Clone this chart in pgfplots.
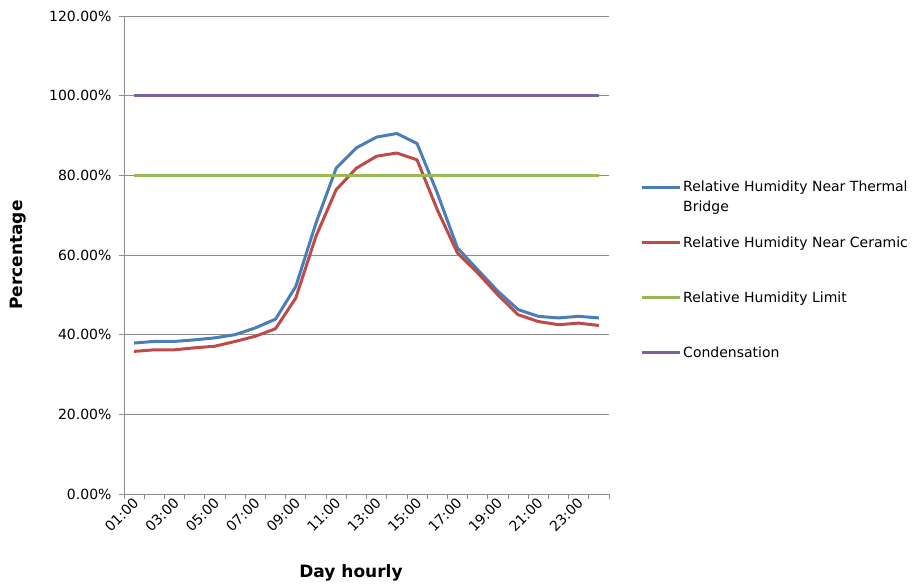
\documentclass[border=0pt]{standalone}
\usepackage{fontspec}
\setmainfont{DejaVu Sans}
\usepackage{pgfplots}
\pgfplotsset{compat=1.18}
\definecolor{cblue}{HTML}{4A7EBB}
\definecolor{cred}{HTML}{BE4B48}
\definecolor{cgreen}{HTML}{98B954}
\definecolor{cpurple}{HTML}{7D60A0}
\definecolor{gridgray}{HTML}{8C8C8C}
\begin{document}
\begin{tikzpicture}
\useasboundingbox (0,0) rectangle (918pt,585pt);
\begin{axis}[
  at={(124pt,91pt)}, anchor=south west,
  scale only axis, width=485pt, height=478pt,
  xmin=0.5, xmax=24.5, ymin=0, ymax=120,
  axis x line=bottom, axis y line=left,
  axis line style={-, draw=gridgray, line width=0.8pt},
  xtick={1,3,...,23},
  xticklabels={01:00,03:00,05:00,07:00,09:00,11:00,13:00,15:00,17:00,19:00,21:00,23:00},
  minor xtick={0.5,1.5,...,24.5},
  ytick={0,20,...,120},
  minor ytick={0,20,...,120},
  yticklabels={0.00\%,20.00\%,40.00\%,60.00\%,80.00\%,100.00\%,120.00\%},
  major tick length=0pt, minor tick length=5pt, tick align=outside,
  tick style={draw=gridgray, line width=0.8pt},
  ymajorgrids, grid style={draw=gridgray, line width=0.8pt},
  xticklabel style={rotate=45, anchor=east, font=\fontsize{14}{16}\selectfont, yshift=-6pt},
  yticklabel style={font=\fontsize{14}{16}\selectfont, xshift=-9pt},
  xlabel={Day hourly}, ylabel={Percentage},
  xlabel style={at={(axis description cs:0.468,0)}, anchor=center, yshift=-79pt, font=\fontsize{17}{20}\selectfont\bfseries},
  ylabel style={at={(axis description cs:0,0.5)}, anchor=center, yshift=106pt, font=\fontsize{17}{20}\selectfont\bfseries},
  legend style={at={(1.064,0.66)}, anchor=north west, draw=none, fill=none, inner sep=0pt, row sep=39pt, font=\fontsize{14}{16}\selectfont, cells={anchor=west}},
  legend image code/.code={\draw[#1] (0pt,0pt) -- (38pt,0pt);},
  every axis plot/.append style={line width=3pt, line join=round, no marks},
]
\addplot[cblue] coordinates {
(1,37.9)(2,38.3)(3,38.3)(4,38.7)(5,39.2)(6,40.0)(7,41.7)(8,43.9)(9,52.1)(10,68.0)(11,81.8)(12,86.9)
(13,89.6)(14,90.5)(15,88.0)(16,75.6)(17,61.8)(18,56.3)(19,50.9)(20,46.3)(21,44.6)(22,44.2)(23,44.6)(24,44.2)};
\addlegendentry{\raisebox{0pt}[\height][0pt]{\begin{tabular}[t]{@{}l@{}}Relative Humidity Near Thermal\\[4pt]Bridge\end{tabular}}}
\addplot[cred] coordinates {
(1,35.8)(2,36.2)(3,36.2)(4,36.7)(5,37.1)(6,38.3)(7,39.6)(8,41.5)(9,49.2)(10,64.7)(11,76.4)(12,81.8)
(13,84.8)(14,85.6)(15,83.9)(16,71.4)(17,60.5)(18,55.5)(19,50.0)(20,45.0)(21,43.3)(22,42.5)(23,42.9)(24,42.3)};
\addlegendentry{Relative Humidity Near Ceramic}
\addplot[cgreen] coordinates {(1,80)(24,80)};
\addlegendentry{Relative Humidity Limit}
\addplot[cpurple] coordinates {(1,100)(24,100)};
\addlegendentry{Condensation}
\end{axis}
\end{tikzpicture}
\end{document}
